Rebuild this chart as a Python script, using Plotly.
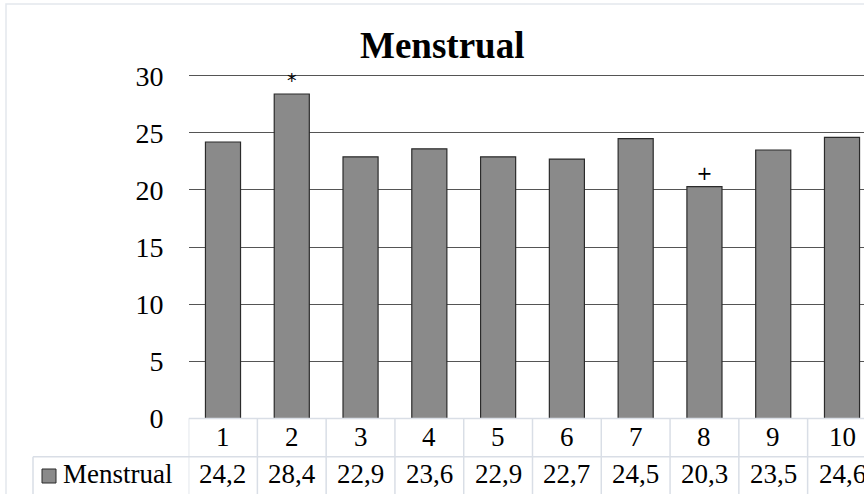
import plotly.graph_objects as go

categories = ["1", "2", "3", "4", "5", "6", "7", "8", "9", "10"]
values = [24.2, 28.4, 22.9, 23.6, 22.9, 22.7, 24.5, 20.3, 23.5, 24.6]
value_labels = ["24,2", "28,4", "22,9", "23,6", "22,9", "22,7", "24,5", "20,3", "23,5", "24,6"]
marks = ["", "*", "", "", "", "", "", "+", "", ""]
series_name = "Menstrual"
title_text = "Menstrual"
y_ticks = [0, 5, 10, 15, 20, 25, 30]

W, H = 864, 494
FONT = "Liberation Serif"
x_left_px = 188.6
y_top_px = 75.7      # pixel of value 30
y_zero_px = 418.5    # pixel of value 0
cell_px = 68.78
row_split_px = 456.7
grid_col = "#d9dee6"
y_max = 30.15
y_dom_top_px = y_zero_px - (y_zero_px - y_top_px) * y_max / 30

x_idx = list(range(len(categories)))
x_max = -0.5 + (W - x_left_px) / cell_px

fig = go.Figure()
fig.add_trace(go.Bar(
    x=x_idx, y=values, width=0.51,
    marker=dict(color="#8a8a8a", line=dict(color="#2b2b2b", width=1.2)),
    text=marks, textposition="outside", cliponaxis=False,
    textfont=dict(family="DejaVu Sans", size=19, color="#000"),
    showlegend=False, hoverinfo="skip",
))

def py(px):
    return 1 - px / H

shapes = []
# outer chart border
shapes.append(dict(type="rect", xref="paper", yref="paper", x0=6 / W, x1=1.2, y0=-0.2, y1=py(4),
                   line=dict(color="#e3e7ed", width=1.5), fillcolor="rgba(0,0,0,0)", layer="below"))
# table lines
shapes.append(dict(type="line", xref="x", yref="paper", x0=-0.5, x1=x_max, y0=py(y_zero_px), y1=py(y_zero_px),
                   line=dict(color=grid_col, width=1.5), layer="above"))
shapes.append(dict(type="line", xref="paper", yref="paper", x0=33 / W, x1=1, y0=py(row_split_px), y1=py(row_split_px),
                   line=dict(color=grid_col, width=1.5), layer="above"))
shapes.append(dict(type="line", xref="paper", yref="paper", x0=33 / W, x1=33 / W, y0=py(row_split_px), y1=0,
                   line=dict(color=grid_col, width=1.5), layer="above"))
for i in range(len(categories) + 1):
    xb = i - 0.5
    if xb <= x_max:
        shapes.append(dict(type="line", xref="x", yref="paper", x0=xb, x1=xb, y0=py(y_zero_px), y1=0,
                           line=dict(color=grid_col, width=1.5), layer="above"))
# legend key
shapes.append(dict(type="rect", xref="paper", yref="paper", x0=42 / W, x1=56 / W, y0=py(483), y1=py(469),
                   line=dict(color="#2b2b2b", width=1), fillcolor="#8a8a8a", layer="above"))

annotations = []
annotations.append(dict(text="<b>" + title_text + "</b>", xref="paper", yref="paper", x=442 / W, y=py(46),
                        xanchor="center", yanchor="middle", showarrow=False,
                        font=dict(family=FONT, size=37, color="#000")))
for i, c in enumerate(categories):
    annotations.append(dict(text=c, xref="x", yref="paper", x=i, y=py(437), xanchor="center", yanchor="middle",
                            showarrow=False, font=dict(family=FONT, size=27, color="#000")))
    annotations.append(dict(text=value_labels[i], xref="x", yref="paper", x=i, y=py(474), xanchor="center",
                            yanchor="middle", showarrow=False, font=dict(family=FONT, size=27, color="#000")))
annotations.append(dict(text=series_name, xref="paper", yref="paper", x=61 / W, y=py(474), xanchor="left",
                        yanchor="middle", showarrow=False, font=dict(family=FONT, size=27, color="#000")))

fig.update_layout(
    width=W, height=H,
    margin=dict(l=0, r=0, t=0, b=0, pad=0, autoexpand=False),
    paper_bgcolor="white", plot_bgcolor="white",
    font=dict(family=FONT, size=27, color="#000"),
    xaxis=dict(domain=[x_left_px / W, 1], range=[-0.5, x_max], showticklabels=False, showgrid=False,
               zeroline=False, showline=False, ticks="", automargin=False),
    yaxis=dict(domain=[py(y_zero_px), py(y_dom_top_px)], range=[0, y_max], tickvals=y_ticks,
               showgrid=True, gridcolor="#555555", gridwidth=1.4, zeroline=False, showline=False,
               ticks="", ticklabelstandoff=24, automargin=False,
               tickfont=dict(family=FONT, size=28, color="#000")),
    shapes=shapes, annotations=annotations, bargap=0.49,
)

fig.write_html("out.html", config={"displayModeBar": False},
               post_script="document.body.style.margin='0px';document.body.style.overflow='hidden';")
